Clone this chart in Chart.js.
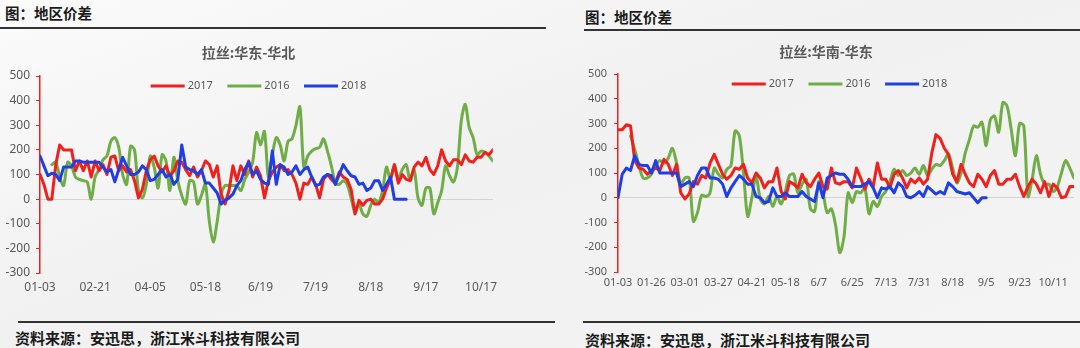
<!DOCTYPE html>
<html>
<head>
<meta charset="utf-8">
<script src="https://cdn.jsdelivr.net/npm/chart.js@4.4.0/dist/chart.umd.min.js"></script>
<style>
body { margin:0; width:1080px; height:348px; position:relative; overflow:hidden;
  background:linear-gradient(160deg, #fbfbfb 0%, #f1f1f1 45%, #f4f4f4 100%);
  font-family:"Noto Sans CJK SC", sans-serif; }
.head { position:absolute; font-size:14.5px; line-height:20px; font-weight:bold; color:#1a1a1a; }
.rule { position:absolute; height:2px; background:#333; }
.src { position:absolute; font-size:15px; line-height:20px; font-weight:bold; color:#1a1a1a; }
.box { position:absolute; }
</style>
</head>
<body>
<div class="head" style="left:5px; top:3px;">图：地区价差</div>
<div class="rule" style="left:0; top:27px; width:546px;"></div>
<div class="head" style="left:585px; top:7px;">图：地区价差</div>
<div class="rule" style="left:584px; top:29px; width:496px;"></div>

<div class="box" style="left:0; top:36px; width:505px; height:262px;"><canvas id="east_north"></canvas></div>
<div class="box" style="left:578px; top:36px; width:502px; height:258px;"><canvas id="south_east"></canvas></div>

<div class="rule" style="left:18px; top:321px; width:537px;"></div>
<div class="rule" style="left:583px; top:321px; width:497px;"></div>
<div class="src" style="left:15px; top:328px;">资料来源：安迅思，浙江米斗科技有限公司</div>
<div class="src" style="left:585px; top:330px;">资料来源：安迅思，浙江米斗科技有限公司</div>

<script>
// 拉丝:华东-华北  (one point per trading day sample, label every 14 samples)
const enLabels = ['01-03','02-21','04-05','05-18','6/19','7/19','8/18','9/17','10/17'];
const en2017 = [100,60,0,0,140,220,200,200,200,115,155,115,155,90,155,115,140,100,170,175,
  115,135,110,120,75,5,40,115,160,175,135,110,135,95,115,155,150,120,95,130,
  90,115,155,140,90,135,20,-20,35,135,75,135,100,155,90,130,95,5,
  75,110,130,140,115,120,100,65,0,65,60,90,60,5,80,100,80,65,110,90,
  80,40,-60,-5,-25,-5,0,-20,-20,0,45,80,140,65,100,80,75,130,150,135,
  170,120,100,135,200,155,135,160,160,140,180,155,150,170,170,190,180,200];
const en2016 = [null,null,null,140,150,90,55,150,135,90,80,75,70,0,90,120,160,175,235,250,
  210,100,60,215,200,35,5,60,175,130,45,180,155,35,170,75,15,-20,75,70,
  -20,15,60,-90,-175,-90,20,55,55,55,55,35,80,110,150,270,220,275,
  90,180,250,220,155,235,245,300,375,130,175,195,205,210,245,195,135,65,60,75,
  60,5,-55,-20,-60,-70,-25,0,-15,35,130,80,140,80,120,140,75,120,5,-25,
  45,45,-60,-15,35,135,95,70,130,320,385,290,250,180,195,190,175,155];
const en2018 = [175,135,95,105,100,75,130,130,130,155,155,150,150,150,150,150,130,110,120,70,
  120,170,135,100,100,110,135,120,75,80,100,120,90,100,60,80,220,130,120,115,
  100,120,65,65,45,25,-20,-5,5,20,55,75,120,150,100,115,80,65,
  60,195,60,140,130,100,110,135,100,120,130,90,55,60,90,100,95,60,100,140,
  115,95,90,60,65,35,45,75,75,35,60,90,0,0,0,0];

// 拉丝:华南-华东  (label every 8 samples)
const seLabels = ['01-03','01-26','03-01','03-27','04-21','05-18','6/7','6/25','7/13','7/31','8/18','9/5','9/23','10/11'];
const se2017 = [275,275,295,290,150,120,115,95,110,120,110,155,135,90,135,20,-5,15,65,55,
  90,80,140,175,135,95,75,90,120,115,135,80,60,100,80,40,65,65,120,25,
  -5,65,55,40,95,60,45,75,100,45,35,120,60,55,65,
  65,40,120,80,35,75,45,140,75,75,40,95,110,80,40,75,60,80,55,75,
  180,255,240,200,175,95,65,135,95,60,45,95,75,45,90,110,55,55,75,75,
  95,45,5,45,75,55,20,65,5,55,40,0,5,45,45];
const se2016 = [null,null,null,250,195,130,80,80,95,130,150,140,160,200,140,55,80,80,-95,-60,
  10,5,20,120,95,80,115,130,270,250,100,-75,0,90,-5,-25,5,-35,5,-25,
  25,90,95,20,55,75,-45,-55,65,20,-60,-45,-110,-222,-160,
  20,-20,25,20,40,-65,-15,-35,5,25,65,115,90,110,90,100,120,95,130,90,
  115,135,130,150,175,120,60,100,180,235,290,285,305,210,315,330,265,385,370,275,
  170,300,290,5,75,170,95,55,55,25,45,100,150,120,80];
const se2018 = [0,95,120,110,170,135,130,130,100,150,100,100,100,100,100,45,55,65,45,90,
  120,120,80,80,75,55,5,40,65,90,75,55,55,5,0,-20,-15,40,5,5,
  20,5,5,5,25,5,-5,-15,60,0,80,90,100,95,95,
  75,45,45,45,55,65,40,0,40,35,45,20,60,45,5,0,10,25,5,45,
  30,15,25,15,60,45,25,20,15,20,0,-20,0,0];

const RED = '#f0201c';
const GREEN = '#70ad47';
const BLUE = '#1f3fe3';
const GREY = '#595959';

Chart.defaults.font.family = '"Noto Sans", "Noto Sans CJK SC", sans-serif';

function toPoints(arr){
    return arr.map((v, i) => ({x: i, y: v}));
}

// one-row legend with long line keys, drawn inside the top of the plot (like the Excel original)
const lineLegend = {
    id: 'lineLegend',
    afterDraw(chart, args, o){
        const ctx = chart.ctx;
        const area = chart.chartArea;
        ctx.save();
        ctx.font = '11px "Noto Sans"';
        ctx.textBaseline = 'middle';
        const items = chart.data.datasets.map(d => ({ text: d.label, color: d.borderColor, w: ctx.measureText(d.label).width }));
        let total = 0;
        items.forEach(it => { total += o.box + o.gap + it.w; });
        total += o.space * (items.length - 1);
        let x = (area.left + area.right) / 2 - total / 2 + o.shift;
        const y = area.top + o.dy;
        items.forEach(it => {
            ctx.fillStyle = it.color;
            ctx.fillRect(x, y - 1.5, o.box, 3);
            x += o.box + o.gap;
            ctx.fillStyle = GREY;
            ctx.fillText(it.text, x, y);
            x += it.w + o.space;
        });
        ctx.restore();
    }
};

function makeChart(id, opt){
    const ctx = document.getElementById(id).getContext('2d');
    return new Chart(ctx, {
        type: 'line',
        data: {
            datasets: [{
                label: '2017', data: toPoints(opt.s2017), borderColor: RED, backgroundColor: RED, order: 1, tension: 0
            }, {
                label: '2016', data: toPoints(opt.s2016), borderColor: GREEN, backgroundColor: GREEN, order: 2, tension: 0.3
            }, {
                label: '2018', data: toPoints(opt.s2018), borderColor: BLUE, backgroundColor: BLUE, order: 0, tension: 0
            }]
        },
        options: {
            responsive: true,
            maintainAspectRatio: false,
            animation: false,
            layout: { padding: { left: 0, right: opt.padRight, top: 0, bottom: 0 } },
            elements: {
                point: { radius: 0 },
                line: { borderWidth: 3, borderJoinStyle: 'round', borderCapStyle: 'round', fill: false }
            },
            scales: {
                x: {
                    type: 'linear',
                    min: 0,
                    max: opt.maxIndex,
                    grid: { display: false, drawTicks: false },
                    border: { display: false },
                    afterBuildTicks: (s) => { s.ticks = opt.labels.map((_, k) => ({value: k * opt.step})); },
                    afterFit: (s) => { s.height = opt.xHeight; },
                    ticks: {
                        autoSkip: false, maxRotation: 0, minRotation: 0,
                        padding: opt.xPad, color: GREY, font: { size: opt.tickSize },
                        callback: (v, i) => opt.labels[i]
                    }
                },
                y: {
                    min: -300,
                    max: 500,
                    afterFit: (s) => { s.width = 40; },
                    ticks: { stepSize: 100, padding: opt.yPad, color: GREY, font: { size: opt.tickSize } },
                    grid: {
                        color: (c) => (c.tick && c.tick.value === 0) ? '#d4d4d4' : 'rgba(0,0,0,0)',
                        drawTicks: true, tickLength: 4, tickColor: RED, lineWidth: 1
                    },
                    border: { color: RED, width: 1.5 }
                }
            },
            plugins: {
                title: {
                    display: true,
                    text: opt.title,
                    color: GREY,
                    font: { family: '"Noto Sans CJK SC", sans-serif', size: 14, weight: 'bold' },
                    padding: { top: opt.titleTop, bottom: opt.titleBottom }
                },
                legend: { display: false },
                lineLegend: { box: 34, gap: 3, space: 14.5, dy: 10, shift: opt.legendShift },
                tooltip: { enabled: false }
            }
        },
        plugins: [lineLegend]
    });
}

makeChart('east_north', {
    title: '拉丝:华东-华北',
    labels: enLabels, step: 14, maxIndex: 115,
    s2017: en2017, s2016: en2016, s2018: en2018,
    padRight: 8, xHeight: 25, xPad: 7.8, yPad: 6, tickSize: 12,
    titleTop: 8.6, titleBottom: 14.6, legendShift: -8
});

makeChart('south_east', {
    title: '拉丝:华南-华东',
    labels: seLabels, step: 8, maxIndex: 109,
    s2017: se2017, s2016: se2016, s2018: se2018,
    padRight: 6, xHeight: 22, xPad: 4.4, yPad: 7, tickSize: 11,
    titleTop: 7.6, titleBottom: 13.6, legendShift: -6.5
});
</script>
</body>
</html>
